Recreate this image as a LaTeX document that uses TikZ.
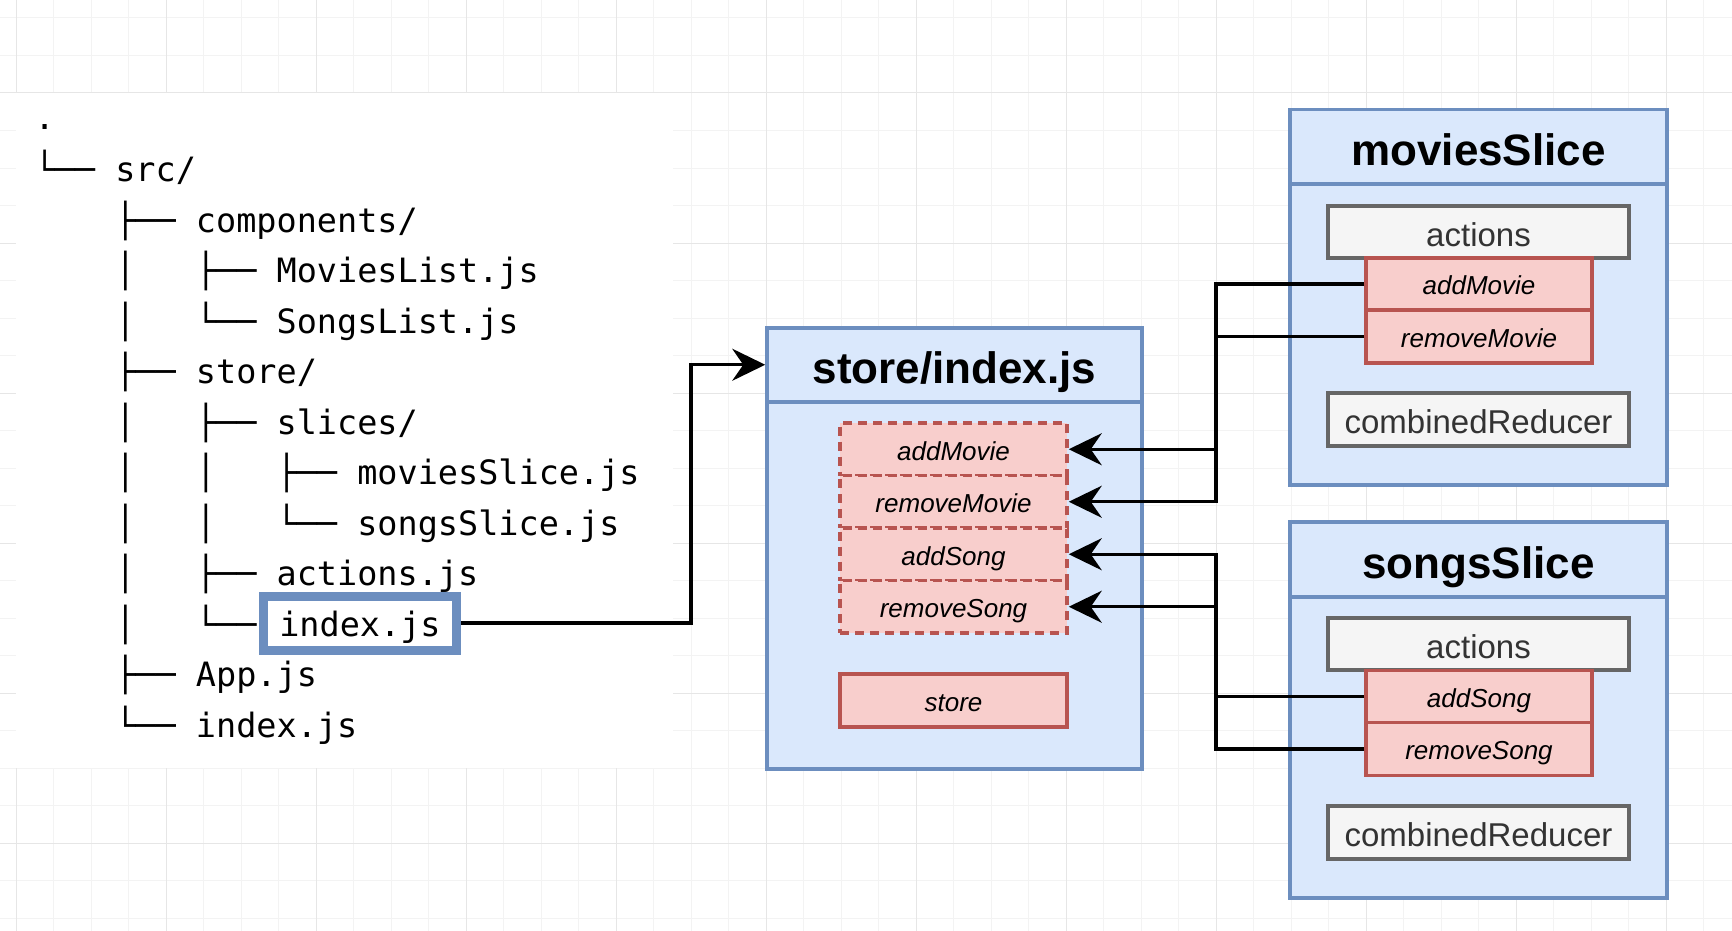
\documentclass[tikz,border=0pt]{standalone}
\usepackage{fontspec}
\setmainfont{Liberation Sans}
\newfontfamily\treefont{DejaVu Sans Mono}
\definecolor{bluefill}{HTML}{DAE8FC}
\definecolor{blueedge}{HTML}{6C8EBF}
\definecolor{redfill}{HTML}{F8CECC}
\definecolor{rededge}{HTML}{B85450}
\definecolor{grayfill}{HTML}{F5F5F5}
\definecolor{grayedge}{HTML}{666666}
\definecolor{graytext}{HTML}{333333}
\definecolor{gridminor}{HTML}{F3F3F3}
\definecolor{gridmajor}{HTML}{E6E6E6}
\usetikzlibrary{arrows.meta, positioning}
\tikzset{
	slicebox/.style={
			draw=blueedge,
			fill=bluefill,
			line width=3.5pt,
			inner sep=0pt
		},
	slicehead/.style={
			slicebox,
			text height=38pt,
			text depth=0pt,
			font=\fontsize{44}{52}\selectfont\bfseries
		},
	actionnode/.style={
			draw=rededge,
			fill=redfill,
			line width=3.5pt,
			inner sep=0pt,
			minimum width=226pt,
			minimum height=52pt,
			text height=21.5pt,
			text depth=0pt,
			font=\fontsize{26}{30}\selectfont\itshape
		},
	storeaction/.style={
			actionnode,
			dash pattern=on 9pt off 6pt,
			minimum width=227pt,
			minimum height=52.5pt
		},
	graynode/.style={
			draw=grayedge,
			fill=grayfill,
			text=graytext,
			line width=4pt,
			inner sep=0pt,
			minimum width=301pt,
			minimum height=52pt,
			text height=28pt,
			text depth=0pt,
			font=\fontsize{33}{40}\selectfont
		},
	treeline/.style={
			anchor=base west,
			inner sep=0pt,
			font=\treefont\fontsize{33.5}{40}\selectfont
		},
	hlbox/.style={
			draw=blueedge,
			fill=white,
			line width=9pt,
			inner sep=0pt,
			minimum width=193pt,
			minimum height=54pt,
			text height=26pt,
			text depth=0pt,
			font=\treefont\fontsize{33.5}{40}\selectfont
		},
	wire/.style={line width=3.2pt},
	link/.style={wire, -{Stealth[length=33pt, width=32pt, inset=11pt]}}
}

\begin{document}
\begin{tikzpicture}[x=1pt, y=-1pt]
\useasboundingbox (0,0) rectangle (1732,931);
% grid paper
\foreach \k in {0,...,45} \draw[gridminor, line width=1pt] ({16+37.5*\k},0) -- ({16+37.5*\k},931);
\foreach \k in {0,...,24} \draw[gridminor, line width=1pt] (0,{18+37.5*\k}) -- (1732,{18+37.5*\k});
\foreach \k in {0,...,11} \draw[gridmajor, line width=1pt] ({16+150*\k},0) -- ({16+150*\k},931);
\foreach \k in {0,...,5} \draw[gridmajor, line width=1pt] (0,{93+150*\k}) -- (1732,{93+150*\k});
\fill[white] (16,93) rectangle (673,768);

% folder tree
\node[treeline] (t0) at (34.4,130) {.};
\node[treeline] (t1) at (34.4,181) {└──~src/};
\node[treeline] (t2) at (34.4,232) {~~~~├──~components/};
\node[treeline] (t3) at (34.4,282) {~~~~│~~~├──~MoviesList.js};
\node[treeline] (t4) at (34.4,333) {~~~~│~~~└──~SongsList.js};
\node[treeline] (t5) at (34.4,383) {~~~~├──~store/};
\node[treeline] (t6) at (34.4,434) {~~~~│~~~├──~slices/};
\node[treeline] (t7) at (34.4,484) {~~~~│~~~│~~~├──~moviesSlice.js};
\node[treeline] (t8) at (34.4,535) {~~~~│~~~│~~~└──~songsSlice.js};
\node[treeline] (t9) at (34.4,585) {~~~~│~~~├──~actions.js};
\node[treeline] (t10) at (34.4,636) {~~~~│~~~└──~};
\node[hlbox] (idx) at (360,623) {index.js};
\node[treeline] (t11) at (34.4,686) {~~~~├──~App.js};
\node[treeline] (t12) at (34.4,737) {~~~~└──~index.js};

% store/index.js
\node[slicebox, minimum width=375pt, minimum height=441pt, anchor=north] (store) at (954.5,326) {};
\node[slicehead, minimum width=375pt, minimum height=74pt, anchor=north] (storeHead) at (store.north) {store/index.js};
\node[storeaction] (sAddMovie) at (953.5,449.25) {addMovie};
\node[storeaction] (sRemoveMovie) at (953.5,501.75) {removeMovie};
\node[storeaction] (sAddSong) at (953.5,554.25) {addSong};
\node[storeaction] (sRemoveSong) at (953.5,606.75) {removeSong};
\node[actionnode, minimum width=227pt, minimum height=53pt] (sStore) at (953.5,700.5) {store};

% moviesSlice
\node[slicebox, minimum width=377pt, minimum height=375pt, anchor=north] (movies) at (1478.5,108) {};
\node[slicehead, minimum width=377pt, minimum height=74pt, anchor=north] (moviesHead) at (movies.north) {moviesSlice};
\node[graynode] (mActions) at (1478.5,232) {actions};
\node[actionnode] (mAdd) at (1479,284) {addMovie};
\node[actionnode, minimum height=53pt] (mRemove) at (1479,336.5) {removeMovie};
\node[graynode, minimum height=53pt] (mReducer) at (1478.5,419.5) {combinedReducer};

% songsSlice
\node[slicebox, minimum width=377pt, minimum height=376pt, anchor=north] (songs) at (1478.5,520) {};
\node[slicehead, minimum width=377pt, minimum height=75pt, anchor=north] (songsHead) at (songs.north) {songsSlice};
\node[graynode] (sgActions) at (1478.5,644) {actions};
\node[actionnode] (sgAdd) at (1479,696.5) {addSong};
\node[actionnode, minimum height=53pt] (sgRemove) at (1479,749) {removeSong};
\node[graynode, minimum height=53pt] (sgReducer) at (1478.5,832) {combinedReducer};

% connectors
\coordinate (turn) at (691,0);
\coordinate (bus) at (1216,0);
\draw[link] (idx.east) -- (idx.east -| turn) |- (storeHead.west);
\draw[link] (mAdd.west) -- (mAdd.west -| bus) |- (sAddMovie.east);
\draw[link] (mRemove.west) -- (mRemove.west -| bus) |- (sRemoveMovie.east);
\draw[link] (sgAdd.west) -- (sgAdd.west -| bus) |- (sAddSong.east);
\draw[link] (sgRemove.west) -- (sgRemove.west -| bus) |- (sRemoveSong.east);
\end{tikzpicture}
\end{document}
